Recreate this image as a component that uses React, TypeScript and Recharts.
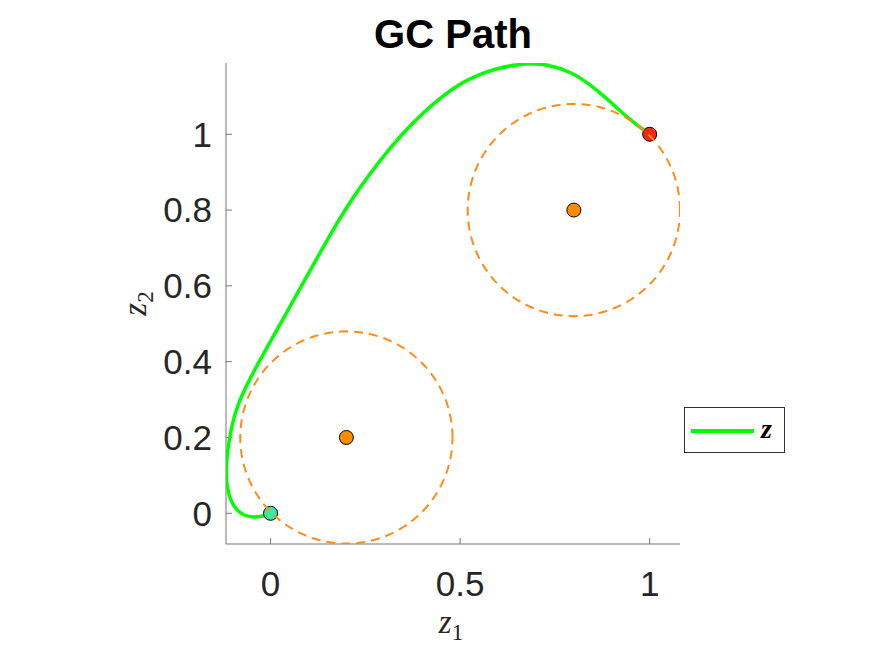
import React from 'react';
import { ComposedChart, Scatter, XAxis, YAxis } from 'recharts';

// ---- data ----
const X_TICKS = [0, 0.5, 1];
const Y_TICKS = [0, 0.2, 0.4, 0.6, 0.8, 1];
const X_DOMAIN = [-0.1175, 1.08];
const Y_DOMAIN = [-0.081, 1.188];

// GC path (z1, z2)
const PATH_Z1 = [
  0, -0.02, -0.045, -0.07, -0.09, -0.106, -0.114, -0.117, -0.116, -0.11, -0.1, -0.087,
  -0.066, -0.036, 0.0, 0.044, 0.087, 0.131, 0.175, 0.218, 0.262, 0.307, 0.35, 0.4, 0.45,
  0.5, 0.55, 0.6, 0.65, 0.69, 0.73, 0.79, 0.84, 0.895, 0.95, 1.0,
];
const PATH_Z2 = [
  0, -0.008, -0.011, -0.006, 0.008, 0.035, 0.065, 0.1, 0.14, 0.19, 0.24, 0.285,
  0.332, 0.39, 0.454, 0.532, 0.61, 0.688, 0.766, 0.834, 0.896, 0.953, 1.004, 1.055, 1.098,
  1.134, 1.158, 1.175, 1.184, 1.187, 1.184, 1.166, 1.134, 1.087, 1.036, 1.0,
];

// obstacles: centres and radii
const CENTER_Z1 = [0.2, 0.8];
const CENTER_Z2 = [0.2, 0.8];
const RADIUS = [0.28, 0.28];

const START = [{ x: 0, y: 0 }];
const GOAL = [{ x: 1, y: 1 }];

const pathData = PATH_Z1.map((x, i) => ({ x, y: PATH_Z2[i] }));
const centerData = CENTER_Z1.map((x, i) => ({ x, y: CENTER_Z2[i] }));
const circleData = (k: number) => {
  const pts: { x: number; y: number }[] = [];
  const n = 120;
  for (let i = 0; i <= n; i++) {
    const t = (2 * Math.PI * i) / n;
    pts.push({ x: CENTER_Z1[k] + RADIUS[k] * Math.cos(t), y: CENTER_Z2[k] + RADIUS[k] * Math.sin(t) });
  }
  return pts;
};

const AXIS_COLOR = '#777777';
const TEXT_COLOR = '#262626';
const FONT = '"Liberation Sans", Arial, Helvetica, sans-serif';
const SERIF = '"Liberation Serif", "DejaVu Serif", serif';

const marker = (fill: string) => (p: any) => (
  <circle cx={p.cx} cy={p.cy} r={7} fill={fill} stroke="#000" strokeWidth={1} />
);
const none = () => <g />;

const LegendBox = () => (
  <svg width={102} height={47} style={{ display: 'block' }}>
    <rect x={0.5} y={0.5} width={100} height={45} fill="#fff" stroke="#333" strokeWidth={1} />
    <line x1={7} y1={24} x2={70} y2={24} stroke="#00ff00" strokeWidth={4} />
    <text x={77} y={31} fontFamily={SERIF} fontStyle="italic" fontWeight="bold" fontSize={28} fill="#000">
      z
    </text>
  </svg>
);

export default function App() {
  return (
    <div style={{ position: 'absolute', left: 0, top: 0, width: 875, height: 657, background: '#fff' }}>
      <ComposedChart
        width={875}
        height={657}
        margin={{ top: 63, right: 195, left: 166, bottom: 73 }}
        style={{ background: '#fff' }}
      >
        <text x={453} y={48} textAnchor="middle" fontFamily={FONT} fontWeight="bold" fontSize={40} fill="#000">
          GC Path
        </text>
        <XAxis
          type="number"
          dataKey="x"
          domain={X_DOMAIN}
          ticks={X_TICKS}
          allowDataOverflow
          height={40}
          stroke={AXIS_COLOR}
          tickSize={-6}
          tickMargin={33}
          tick={{ fill: TEXT_COLOR, fontSize: 35, fontFamily: FONT }}
          label={{
            content: ({ viewBox }: any) => (
              <text x={viewBox.x + viewBox.width / 2 - 2} y={viewBox.y + 89} textAnchor="middle" fill={TEXT_COLOR} fontFamily={SERIF}>
                <tspan fontStyle="italic" fontSize={33}>z</tspan>
                <tspan fontSize={23} dy={7}>1</tspan>
              </text>
            ),
          }}
        />
        <YAxis
          type="number"
          dataKey="y"
          domain={Y_DOMAIN}
          ticks={Y_TICKS}
          allowDataOverflow
          width={60}
          stroke={AXIS_COLOR}
          tickSize={-6}
          tickMargin={20}
          tick={{ fill: TEXT_COLOR, fontSize: 35, fontFamily: FONT }}
          label={{
            content: ({ viewBox }: any) => {
              const cx = viewBox.x - 20;
              const cy = viewBox.y + viewBox.height / 2;
              return (
                <text x={cx} y={cy} textAnchor="middle" fill={TEXT_COLOR} fontFamily={SERIF} transform={`rotate(-90 ${cx} ${cy})`}>
                  <tspan fontStyle="italic" fontSize={33}>z</tspan>
                  <tspan fontSize={23} dy={7}>2</tspan>
                </text>
              );
            },
          }}
        />
        <Scatter
          name="z"
          data={pathData}
          fill="#00ff00"
          line={{ stroke: '#00ff00', strokeWidth: 3.5 }}
          lineType="joint"
          lineJointType="basis"
          shape={none}
          isAnimationActive={false}
        />
        <Scatter data={centerData} shape={marker('#ff8c00')} isAnimationActive={false} />
        <Scatter data={START} shape={marker('#3de8a6')} isAnimationActive={false} />
        <Scatter data={GOAL} shape={marker('#f52a10')} isAnimationActive={false} />
        <Scatter
          data={circleData(0)}
          line={{ stroke: '#ff8c1a', strokeWidth: 2, strokeDasharray: '9 6' }}
          lineType="joint"
          shape={none}
          isAnimationActive={false}
        />
        <Scatter
          data={circleData(1)}
          line={{ stroke: '#ff8c1a', strokeWidth: 2, strokeDasharray: '9 6' }}
          lineType="joint"
          shape={none}
          isAnimationActive={false}
        />
      </ComposedChart>
      <div style={{ position: 'absolute', left: 684, top: 407 }}>
        <LegendBox />
      </div>
    </div>
  );
}
